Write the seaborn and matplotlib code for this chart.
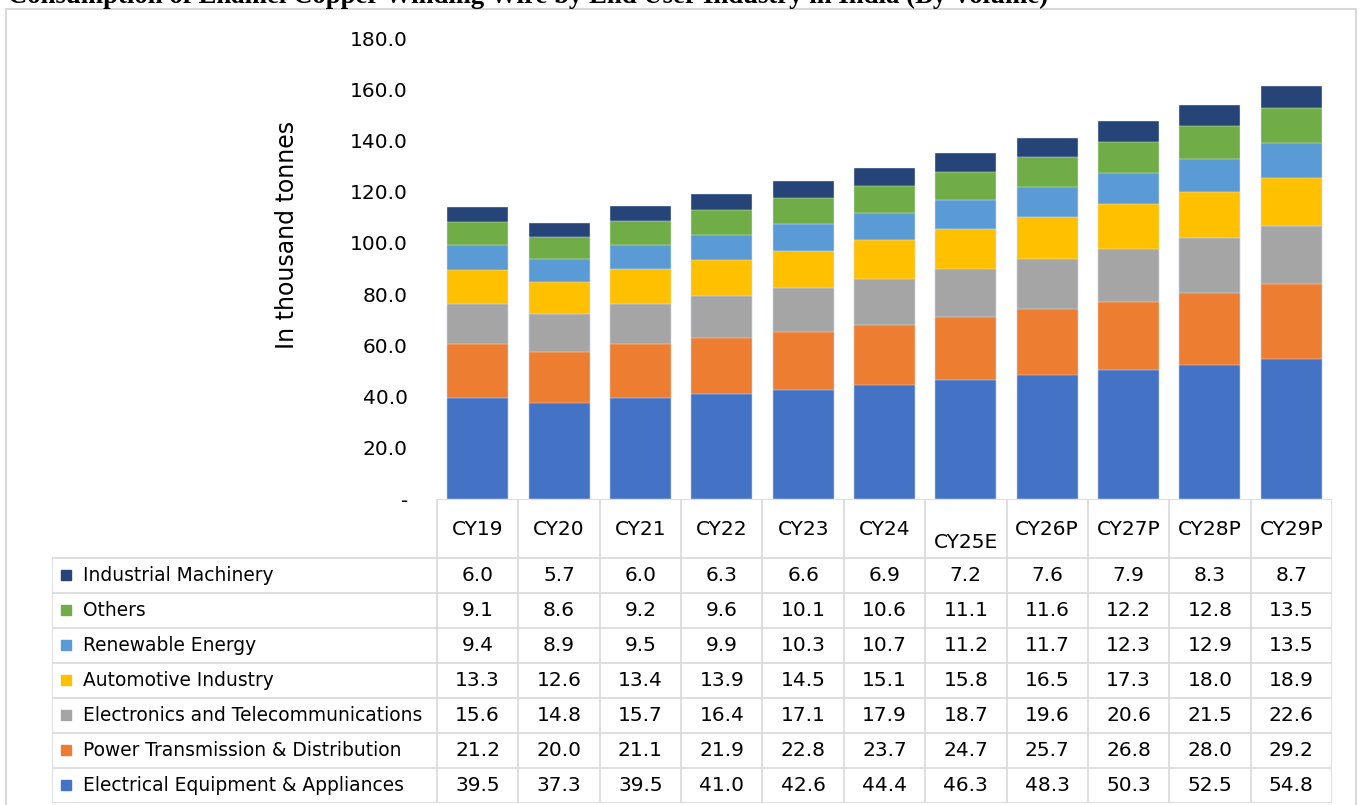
import numpy as np
import pandas as pd
import seaborn as sns
import matplotlib.pyplot as plt
from matplotlib.patches import Rectangle

years = ["CY19", "CY20", "CY21", "CY22", "CY23", "CY24", "CY25E",
         "CY26P", "CY27P", "CY28P", "CY29P"]

# stacking order, bottom to top
segments = [
    "Electrical Equipment & Appliances",
    "Power Transmission & Distribution",
    "Electronics and Telecommunications",
    "Automotive Industry",
    "Renewable Energy",
    "Others",
    "Industrial Machinery",
]
electrical = [39.5, 37.3, 39.5, 41.0, 42.6, 44.4, 46.3, 48.3, 50.3, 52.5, 54.8]
power = [21.2, 20.0, 21.1, 21.9, 22.8, 23.7, 24.7, 25.7, 26.8, 28.0, 29.2]
electronics = [15.6, 14.8, 15.7, 16.4, 17.1, 17.9, 18.7, 19.6, 20.6, 21.5, 22.6]
automotive = [13.3, 12.6, 13.4, 13.9, 14.5, 15.1, 15.8, 16.5, 17.3, 18.0, 18.9]
renewable = [9.4, 8.9, 9.5, 9.9, 10.3, 10.7, 11.2, 11.7, 12.3, 12.9, 13.5]
others = [9.1, 8.6, 9.2, 9.6, 10.1, 10.6, 11.1, 11.6, 12.2, 12.8, 13.5]
machinery = [6.0, 5.7, 6.0, 6.3, 6.6, 6.9, 7.2, 7.6, 7.9, 8.3, 8.7]
colors = ["#4472C4", "#ED7D31", "#A5A5A5", "#FFC000", "#5B9BD5", "#70AD47", "#264478"]

values = [electrical, power, electronics, automotive, renewable, others, machinery]
df = pd.DataFrame({s: v for s, v in zip(segments, values)}, index=years)
cum = df.cumsum(axis=1)

sns.set_theme(style="white")
plt.rcParams["font.family"] = ["DejaVu Sans"]
plt.rcParams["text.color"] = "black"
plt.rcParams["ytick.color"] = "black"

W, H = 1364, 805
fig = plt.figure(figsize=(W / 100, H / 100), dpi=100)

# pixel layout
x_left, x_right = 437, 1332
y_top, y_base = 38, 499
y_tab_end = 803
lab_left = 52
colw = (x_right - x_left) / len(years)

ax = fig.add_axes([x_left / W, 1 - y_base / H, (x_right - x_left) / W, (y_base - y_top) / H])

# stacked bars: draw cumulative totals from top segment down
for seg, col in reversed(list(zip(segments, colors))):
    d = pd.DataFrame({"year": years, "val": cum[seg].values})
    sns.barplot(data=d, x="year", y="val", order=years, color=col, saturation=1,
                width=0.75, errorbar=None, edgecolor="#e8eef8", linewidth=0.3, ax=ax)

ax.set_xlim(-0.5, len(years) - 0.5)
ax.set_ylim(0, 180)
ax.set_yticks(np.arange(0, 181, 20))
ax.set_yticklabels(["-"] + [f"{v:.1f}" for v in np.arange(20, 181, 20)], fontsize=14.5)
ax.tick_params(axis="y", length=0, pad=21, labelcolor="black")
ax.set_xticks([])
ax.set_xlabel("")
ax.set_ylabel("")
for s in ax.spines.values():
    s.set_visible(False)

fig.text(287 / W, 1 - 235 / H, "In thousand tonnes", rotation=90, fontsize=17,
         ha="center", va="center")

# data table below the bars
tab = fig.add_axes([lab_left / W, 1 - y_tab_end / H, (x_right - lab_left) / W, (y_tab_end - y_base) / H])
xmin = -0.5 - (x_left - lab_left) / colw
tab.set_xlim(xmin, len(years) - 0.5)
head_h, row_h = 59, 35
tab.set_ylim(head_h + row_h * len(segments) + 0.5, 0)
tab.axis("off")
gc = "#d9d9d9"

tab.plot([-0.5, len(years) - 0.5], [0.5, 0.5], color=gc, lw=1.2)
for k in range(len(segments) + 1):
    yy = head_h + k * row_h
    tab.plot([xmin, len(years) - 0.5], [yy, yy], color=gc, lw=1.2)
for k in range(len(years) + 1):
    tab.plot([k - 0.5, k - 0.5], [0.5, head_h + row_h * len(segments)], color=gc, lw=1.2)
tab.plot([xmin, xmin], [head_h, head_h + row_h * len(segments)], color=gc, lw=1.2)

for i, yr in enumerate(years):
    yoff = 44 if yr == "CY25E" else 31
    tab.text(i, yoff, yr, ha="center", va="center", fontsize=14.5)

px = lambda p: -0.5 + (p - x_left) / colw
for r, (seg, col) in enumerate(reversed(list(zip(segments, colors)))):
    yc = head_h + r * row_h + row_h / 2
    tab.plot([px(66)], [yc], marker="s", color=col, markersize=7.5, linestyle="none")
    tab.text(px(83), yc, seg, ha="left", va="center", fontsize=13.4)
    for i, v in enumerate(df[seg]):
        tab.text(i, yc, f"{v:.1f}", ha="center", va="center", fontsize=14.5)

# outer frame and cut-off title
fig.add_artist(Rectangle((6 / W, -0.01), 1350 / W, 1 - 9 / H + 0.01, transform=fig.transFigure,
                         fill=False, edgecolor=gc, lw=1.5))
fig.text(8 / W, 1 - 3 / H,
         "Consumption of Enamel Copper Winding Wire by End User Industry in India (By Volume)",
         fontsize=19.3, fontweight="bold", family="Liberation Serif", ha="left", va="baseline")

fig.savefig("out.png", dpi=100)
